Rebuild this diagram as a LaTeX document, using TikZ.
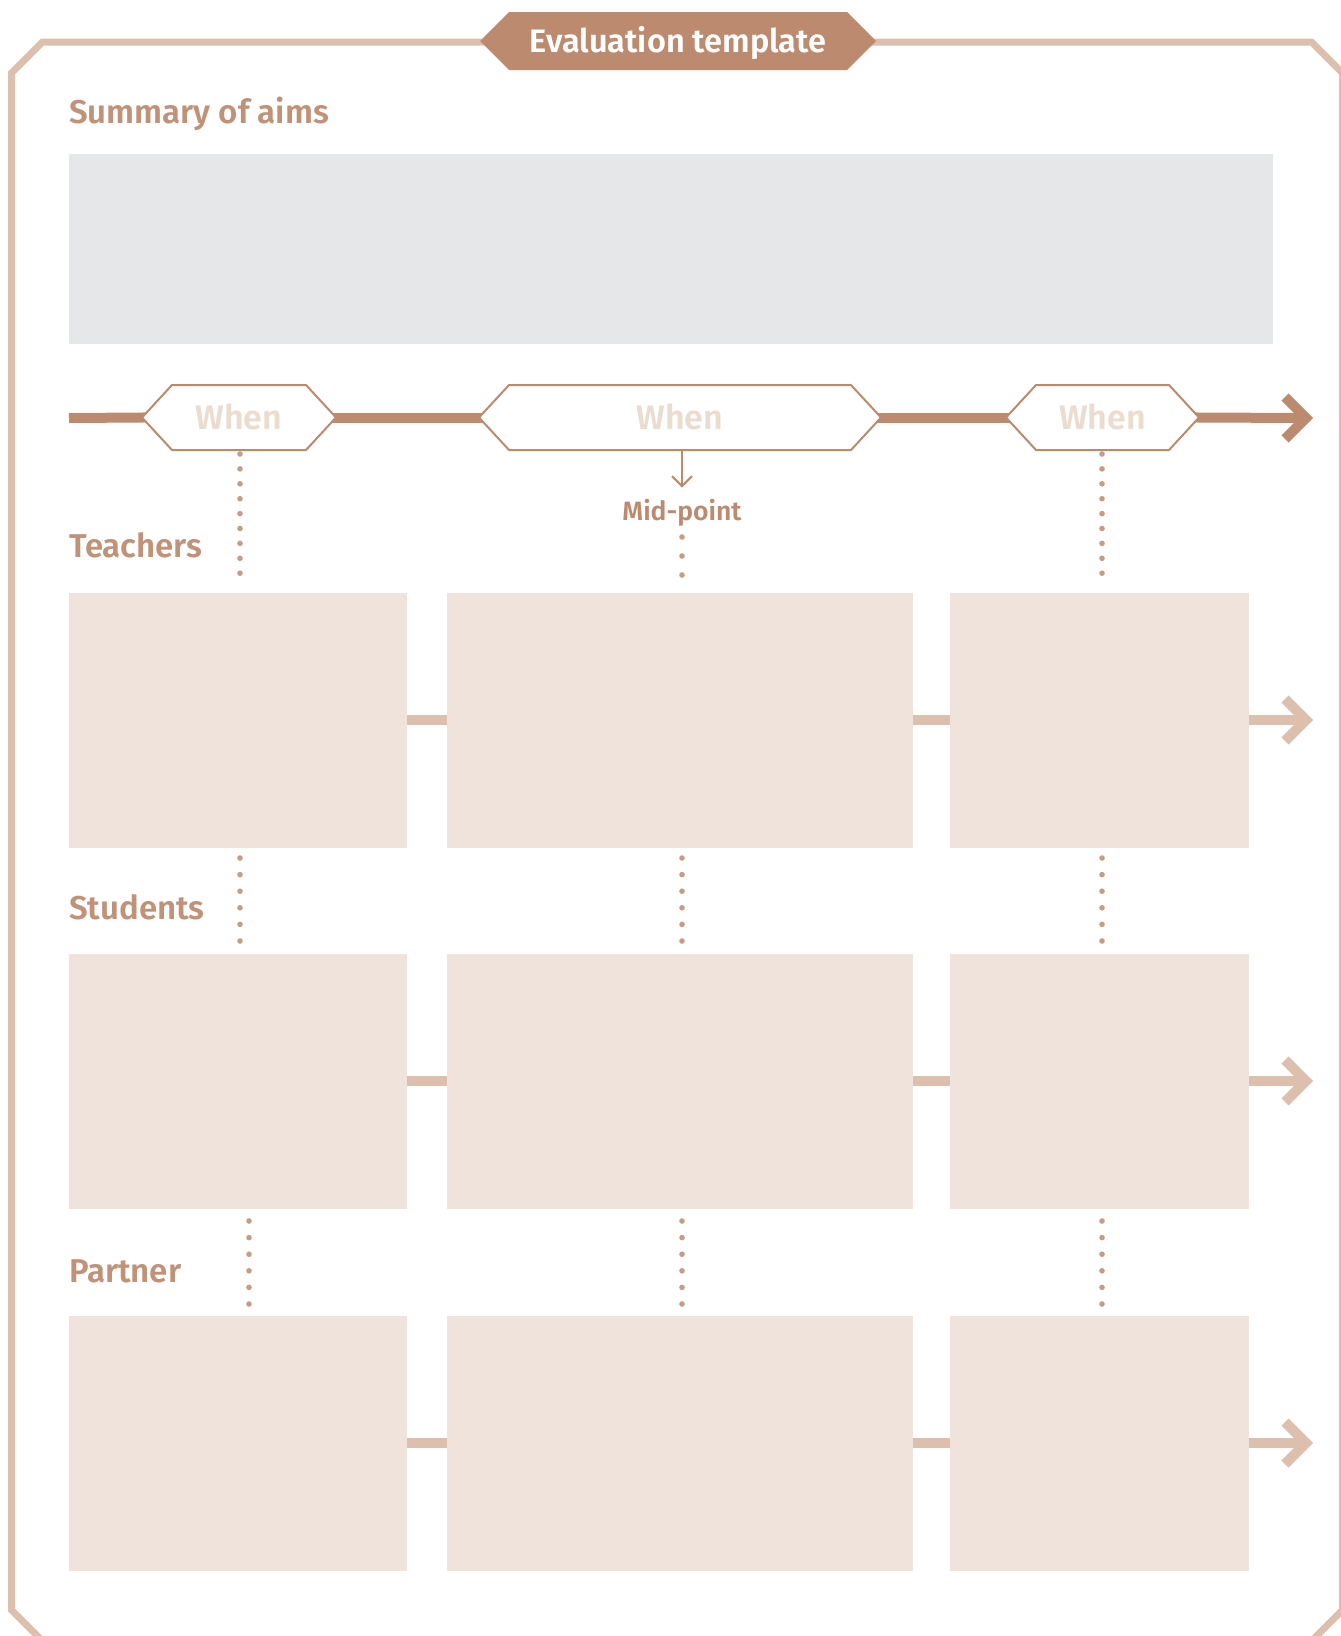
\documentclass[tikz,border=0pt]{standalone}
\usepackage{fontspec}
\setmainfont{Fira Sans}[BoldFont={Fira Sans SemiBold}]
\usetikzlibrary{arrows.meta,backgrounds}
\definecolor{tan}{RGB}{188,139,111}
\definecolor{labelc}{RGB}{192,146,120}
\definecolor{dotc}{RGB}{197,156,133}
\definecolor{lightc}{RGB}{221,191,173}
\definecolor{boxc}{RGB}{239,227,219}
\definecolor{greyc}{RGB}{230,231,232}
\definecolor{whenc}{RGB}{235,220,208}
\begin{document}
\begin{tikzpicture}[x=1pt,y=-1pt,
  lbl/.style={text=labelc, font=\bfseries\fontsize{33}{33}\selectfont, anchor=base west, inner sep=0pt},
  cell/.style={fill=boxc, draw=none, inner sep=0pt, outer sep=0pt, minimum height=255pt},
  hexnode/.style={inner sep=0pt, outer sep=0pt, minimum height=65pt, text height=24pt, text depth=0pt, text=whenc, font=\bfseries\fontsize{34}{34}\selectfont},
  hexline/.style={draw=tan, line width=2pt, fill=white, line join=miter},
  tline/.style={draw=tan, line width=10pt},
  flow/.style={draw=lightc, line width=10pt},
  chev/.style={line join=miter, miter limit=10},
  frame/.style={draw=lightc, line width=7pt, line join=miter}
]
\clip (0,0) rectangle (1341,1636);

% title
\node[inner sep=0pt, outer sep=0pt, minimum width=396pt, minimum height=58pt,
      text height=22pt, text depth=0pt, text=white,
      font=\bfseries\fontsize{32.5}{32.5}\selectfont] (title) at (678,41) {Evaluation template};

% summary
\node[lbl] (sum) at (69,123) {Summary of aims};
\node[fill=greyc, inner sep=0pt, minimum width=1204pt, minimum height=190pt] (aims) at (671,249) {};

% timeline hexagons
\node[hexnode, minimum width=194pt] (h1) at (239,417.5) {When};
\node[hexnode, minimum width=402pt] (h2) at (680,417.5) {When};
\node[hexnode, minimum width=193pt] (h3) at (1102.5,417.5) {When};
\coordinate (tl0) at (69,418);
\coordinate (tlend) at (1306,418);

% mid-point
\node[anchor=base, inner sep=0pt, text=tan, font=\bfseries\fontsize{26.5}{26.5}\selectfont] (mid) at (682,520) {Mid-point};
\draw[tan, line width=2pt, -{Straight Barb[length=10pt,width=20pt]}, shorten >=11pt] (mid.north |- h2.south) -- (mid.north);

% row labels
\node[lbl] (teach) at (69,557) {Teachers};
\node[lbl] (stud) at (69,919) {Students};
\node[lbl] (part) at (69,1282) {Partner};

% boxes
\foreach \r/\y in {a/720,b/1081,c/1443}{
  \node[cell, minimum width=338pt] (\r1) at (238,\y) {};
  \node[cell, minimum width=466pt] (\r2) at (680,\y) {};
  \node[cell, minimum width=299pt] (\r3) at (1099.5,\y) {};
  \coordinate (\r end) at (1306,\y);
  \draw[flow] (\r1.east) -- (\r2.west);
  \draw[flow] (\r2.east) -- (\r3.west);
  \draw[flow] (\r3.east) -- (\r end);
  \draw[flow, chev] (1285,\y-21) -- (\r end) -- (1285,\y+21);
}

% dots
\foreach \x in {240,1102}{
  \foreach \k in {0,...,8}{ \fill[dotc] (\x,454+\k*14.9) circle[radius=2.8pt]; }
}
\foreach \k in {0,1,2}{ \fill[dotc] (682,537+\k*19) circle[radius=2.8pt]; }
\foreach \x in {240,682,1102}{
  \foreach \k in {0,...,5}{ \fill[dotc] (\x,858+\k*16.6) circle[radius=2.8pt]; }
}
\foreach \x in {249,682,1102}{
  \foreach \k in {0,...,5}{ \fill[dotc] (\x,1221+\k*16.6) circle[radius=2.8pt]; }
}

\begin{scope}[on background layer]
  % frame
  \draw[frame] (11.5,73) -- (42.5,42) -- (1311.5,42) -- (1342.5,73) -- (1342.5,1610) -- (1311.5,1641) -- (42.5,1641) -- (11.5,1610) -- cycle;
  % banner
  \fill[tan] (title.west) -- ([xshift=29pt]title.north west) -- ([xshift=-29pt]title.north east) -- (title.east) -- ([xshift=-29pt]title.south east) -- ([xshift=29pt]title.south west) -- cycle;
  % timeline
  \draw[tline, shorten >=-6pt] (tl0) -- (h1.west);
  \draw[tline, shorten <=-6pt, shorten >=-6pt] (h1.east) -- (h2.west);
  \draw[tline, shorten <=-6pt, shorten >=-6pt] (h2.east) -- (h3.west);
  \draw[tline, shorten <=-6pt] (h3.east) -- (tlend);
  \draw[tline, chev] (1285,397) -- (tlend) -- (1285,439);
  \foreach \h in {h1,h2,h3}{
    \draw[hexline] (\h.west) -- ([xshift=30pt]\h.north west) -- ([xshift=-30pt]\h.north east) -- (\h.east) -- ([xshift=-30pt]\h.south east) -- ([xshift=30pt]\h.south west) -- cycle;
  }
\end{scope}
\end{tikzpicture}
\end{document}
